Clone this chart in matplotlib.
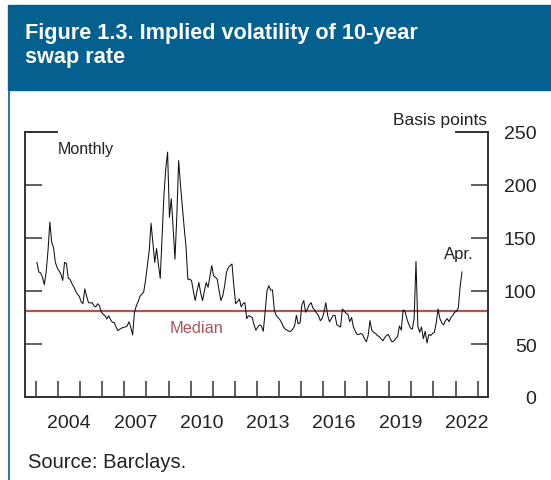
import numpy as np
import matplotlib
matplotlib.use("Agg")
import matplotlib.pyplot as plt
from matplotlib.patches import Rectangle
from matplotlib.lines import Line2D

# monthly implied volatility (basis points), Jan 2003 .. Apr 2022
start_year = 2003
vol = [
    127, 118, 117, 113, 106, 118, 138, 165, 146, 141, 127, 122,   # 2003
    119, 116, 110, 127, 126, 112, 111, 107, 104, 100, 97, 95,     # 2004
    90, 88, 102, 95, 89, 88.7, 89, 86, 85, 88, 86, 80,            # 2005
    78, 76.7, 73.6, 76.7, 73, 70.4, 70.4, 66, 62.6, 64, 65, 65.7, # 2006
    66, 67, 71, 65.7, 58.5, 80, 86, 90, 95, 97, 99, 110,          # 2007
    124, 138, 164, 145, 127, 140, 125, 112, 150, 190, 215, 231,   # 2008
    169.5, 187, 160, 130, 170, 223, 200, 180, 160, 142, 111, 111, # 2009
    110, 100, 91, 100, 108, 98, 91, 100, 108, 103.5, 114, 124,    # 2010
    114.5, 113, 111, 100, 91, 95.6, 105, 117.6, 122, 124, 125.5, 105,  # 2011
    88, 90, 92.5, 85, 88, 89, 74, 76.7, 76, 75, 68, 63,           # 2012
    66, 68, 67, 62, 80, 100, 105, 101, 101, 82, 77, 75,           # 2013
    73, 70, 66, 64, 63, 62, 62, 64, 67, 77, 69, 70,               # 2014
    87, 91, 80, 83, 87, 89, 84, 82, 79, 77, 72, 74,               # 2015
    80, 89, 77, 71, 74, 77, 77, 68, 67, 66, 83, 81,               # 2016
    79, 78, 71, 75, 66, 62, 59, 59, 60, 59, 55, 52,               # 2017
    58, 72, 63, 61, 60, 58, 57, 55, 53, 56, 58, 59,               # 2018
    55, 52, 53, 55, 57, 67, 63, 82, 81, 74, 69, 65,               # 2019
    64, 74, 128, 67, 61, 66, 55, 62, 51, 59, 58, 60,              # 2020
    61, 70, 83, 74, 70, 68, 72, 74, 71, 75, 77, 80,               # 2021
    81, 84, 104, 118,                                             # 2022
]
median_value = 81
year_ticks = list(range(2003, 2024))
year_labels = [2004, 2007, 2010, 2013, 2016, 2019, 2022]
y_ticks = [0, 50, 100, 150, 200, 250]

dates = start_year + (np.arange(len(vol)) + 0.5) / 12.0

W, H = 551, 481
fig = plt.figure(figsize=(W / 100, H / 100), dpi=100)
fig.patch.set_facecolor("white")

blue = "#04618f"
# header band
fig.patches.append(Rectangle((8 / W, 1 - 90.5 / H), 1 - 8 / W, 84.5 / H,
                             transform=fig.transFigure, color=blue, zorder=0))
fig.lines.append(Line2D([8.5 / W, 8.5 / W], [0, 1 - 90 / H], transform=fig.transFigure,
                        color=blue, lw=1.2))
title_font = ["Liberation Sans", "DejaVu Sans"]
fig.text(25 / W, 1 - 39.5 / H, "Figure 1.3. Implied volatility of 10-year", color="white",
         fontsize=15.6, fontweight="bold", family=title_font, va="baseline", ha="left")
fig.text(25 / W, 1 - 63.5 / H, "swap rate", color="white",
         fontsize=15.6, fontweight="bold", family=title_font, va="baseline", ha="left")

ax = fig.add_axes([25 / W, 1 - 398 / H, (488 - 25) / W, (398 - 133) / H])
ax.set_xlim(2002.5, 2023.47)
ax.set_ylim(0, 250)

spine_col = "#333333"
for s in ["left", "right", "bottom"]:
    ax.spines[s].set_color(spine_col)
    ax.spines[s].set_linewidth(1.4)
ax.spines["top"].set_visible(False)

ax.axhline(median_value, color="#a8575a", lw=1.6, zorder=2)
ax.plot(dates, vol, color="#111111", lw=0.75, zorder=3)

# x axis: year ticks inward, labels at mid-year
ax.set_xticks(year_ticks, minor=True)
ax.tick_params(axis="x", which="minor", direction="in", length=11.5, width=1.1,
               color=spine_col)
ax.set_xticks([y + 0.5 for y in year_labels])
ax.set_xticklabels([str(y) for y in year_labels])
ax.tick_params(axis="x", which="major", length=0, pad=12, labelsize=14,
               labelcolor="#222222")

# y axis: ticks inward on both sides, labels on right
ax.set_yticks(y_ticks)
ax.yaxis.set_ticks_position("both")
ax.tick_params(axis="y", direction="in", length=12, width=1.1, color=spine_col,
               left=True, right=True, labelleft=False, labelright=True,
               labelsize=14, labelcolor="#222222", pad=35)
for lab in ax.get_yticklabels():
    lab.set_horizontalalignment("right")
# longer corner marks at the top
ax.plot([0, 32 / 463], [1, 1], transform=ax.transAxes, color=spine_col, lw=1.4,
        clip_on=False)
ax.plot([1 - 32 / 463, 1], [1, 1], transform=ax.transAxes, color=spine_col, lw=1.4,
        clip_on=False)

for lab in ax.get_xticklabels() + ax.get_yticklabels():
    lab.set_family(["Liberation Sans", "DejaVu Sans"])

small_font = ["Liberation Sans", "DejaVu Sans"]
ax.text(33 / 463, 1 - 17 / 265, "Monthly", transform=ax.transAxes, fontsize=11.5,
        family=small_font, color="#222222", ha="left", va="center")
fig.text(487 / W, 1 - 120 / H, "Basis points", fontsize=12.5, family=small_font,
         color="#222222", ha="right", va="center")
ax.text(2022.15, 135, "Apr.", fontsize=12, family=small_font, color="#222222",
        ha="center", va="center")
ax.text(2010.25, 66, "Median", fontsize=11.8, family=small_font, color="#a8575a",
        ha="center", va="center")

fig.text(28 / W, 1 - 462 / H, "Source: Barclays.", fontsize=14.5,
         family=["Liberation Sans", "DejaVu Sans"], color="#222222", ha="left", va="center")

fig.savefig("out.png", dpi=100)
